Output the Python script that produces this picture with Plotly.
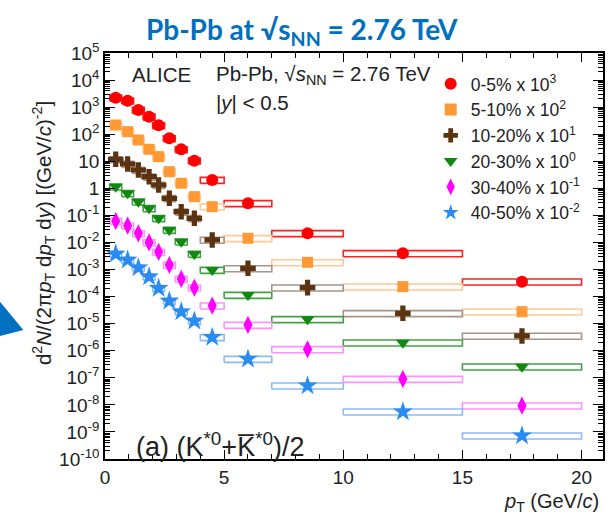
import plotly.graph_objects as go

# K*0 transverse-momentum bins (GeV/c): point positions and box half-widths
pt = [0.45, 0.95, 1.4, 1.85, 2.25, 2.7, 3.2, 3.75, 4.5, 6.0, 8.5, 12.5, 17.5]
pt_halfwidth = [0.25, 0.25, 0.25, 0.25, 0.25, 0.25, 0.25, 0.25, 0.5, 1.0, 1.5, 2.5, 2.5]

# Invariant yields per centrality class (unscaled)
yield_0_5 = [2.23, 1.73, 0.783, 0.443, 0.213, 0.0705, 0.0276, 0.0105,
             2.03e-3, 2.81e-4, 2.19e-5, 3.98e-6, 3.56e-7]
yield_5_10 = [2.19, 1.24, 0.611, 0.277, 0.148, 0.0412, 0.0154, 4.92e-3,
              2.10e-3, 1.43e-4, 1.85e-5, 2.33e-6, 2.77e-7]
yield_10_20 = [1.18, 0.794, 0.476, 0.269, 0.133, 0.0429, 0.0137, 7.83e-3,
               1.24e-3, 1.11e-4, 2.14e-5, 2.42e-6, 3.52e-7]
yield_20_30 = [1.15, 0.656, 0.321, 0.183, 0.0783, 0.0289, 0.0107, 3.76e-3,
               9.64e-4, 1.15e-4, 1.46e-5, 1.99e-6, 2.58e-7]
yield_30_40 = [0.622, 0.417, 0.218, 0.100, 0.0446, 0.0147, 4.48e-3, 2.14e-3,
               4.62e-4, 8.95e-5, 1.13e-5, 9.06e-7, 9.35e-8]
yield_40_50 = [0.376, 0.225, 0.117, 0.0545, 0.0203, 6.90e-3, 2.78e-3, 1.26e-3,
               3.15e-4, 4.97e-5, 5.13e-6, 5.61e-7, 7.29e-8]

# Relative systematic uncertainty (drawn as open boxes)
sys_rel = 0.25

centrality_labels = ["0-5%", "5-10%", "10-20%", "20-30%", "30-40%", "40-50%"]
scale_exponents = [3, 2, 1, 0, -1, -2]
series = [yield_0_5, yield_5_10, yield_10_20, yield_20_30, yield_30_40, yield_40_50]

marker_colors = ["#ff0000", "#ff9933", "#5c3311", "#118811", "#ff00ff", "#2a8cf0"]
box_colors = ["#ff2020", "#ffc896", "#a89488", "#44a044", "#ff90ff", "#8cbcf8"]
marker_symbols = ["circle", "square", "cross", "triangle-down", "diamond-tall", "star"]
marker_sizes = [12, 11, 13, 12, 13, 15]

fig = go.Figure()

# Systematic-uncertainty boxes
for vals, exp, bcol in zip(series, scale_exponents, box_colors):
    scale = 10.0 ** exp
    xs, ys = [], []
    for x, hw, v in zip(pt, pt_halfwidth, vals):
        v = v * scale
        lo, hi = v * (1 - sys_rel), v * (1 + sys_rel)
        xs += [x - hw, x + hw, x + hw, x - hw, x - hw, None]
        ys += [lo, lo, hi, hi, lo, None]
    fig.add_trace(go.Scatter(
        x=xs, y=ys, mode="lines", line=dict(color=bcol, width=1.6),
        showlegend=False, hoverinfo="skip"))

# Data points, scaled for visibility
for i, (vals, exp) in enumerate(zip(series, scale_exponents)):
    scale = 10.0 ** exp
    fig.add_trace(go.Scatter(
        x=pt, y=[v * scale for v in vals], mode="markers",
        name=f"{centrality_labels[i]} x 10<sup>{exp}</sup>",
        legendgroup=f"g{i}",
        marker=dict(symbol=marker_symbols[i], size=marker_sizes[i],
                    color=marker_colors[i], line=dict(width=0))))

# Log-axis decade ticks
decades = list(range(-10, 6))
ytickvals = [10.0 ** k for k in decades]
yticktext = []
for k in decades:
    if k == 0:
        yticktext.append("1")
    elif k == 1:
        yticktext.append("10")
    else:
        yticktext.append(f"10<sup>{k}</sup>")
yminor = [m * 10.0 ** k for k in range(-10, 5) for m in range(2, 10)]

fig.update_xaxes(
    range=[0, 20.9], tickvals=[0, 5, 10, 15, 20], ticks="inside", ticklen=9,
    tickwidth=1.3, tickcolor="black", showline=True, linecolor="black",
    linewidth=1.5, mirror="allticks", showgrid=False, zeroline=False,
    tickfont=dict(size=19),
    minor=dict(tick0=0, dtick=1, ticks="inside", ticklen=5, tickwidth=1.2,
               tickcolor="black", showgrid=False))
fig.update_yaxes(
    type="log", range=[-10, 5], tickvals=ytickvals, ticktext=yticktext,
    ticks="inside", ticklen=10, tickwidth=1.3, tickcolor="black",
    showline=True, linecolor="black", linewidth=1.5, mirror="allticks",
    showgrid=False, zeroline=False, tickfont=dict(size=19),
    minor=dict(tickvals=yminor, ticks="inside", ticklen=5, tickwidth=1.1,
               tickcolor="black", showgrid=False))

sans = "Liberation Sans, Arial, sans-serif"
text_font = dict(family=sans, size=20.5, color="#222222")

annotations = [
    dict(text="Pb-Pb at √s<sub>NN</sub> = 2.76 TeV", x=0.396, y=1.055,
         xanchor="center", yanchor="middle",
         font=dict(family="Lato, Open Sans, sans-serif", size=28, color="#0070c0",
                   weight="bold")),
    dict(text="ALICE", x=0.05, y=0.946, xanchor="left", yanchor="middle", font=text_font),
    dict(text="Pb-Pb, √<i>s</i><sub>NN</sub> = 2.76 TeV", x=0.218, y=0.946,
         xanchor="left", yanchor="middle", font=text_font),
    dict(text="|<i>y</i>| < 0.5", x=0.218, y=0.877, xanchor="left", yanchor="middle",
         font=text_font),
    dict(text="(a) (K<sup>*0</sup>+K̅<sup>*0</sup>)/2", x=0.058, y=0.034,
         xanchor="left", yanchor="middle",
         font=dict(family=sans, size=27, color="#222222")),
    dict(text="<i>p</i><sub>T</sub> (GeV/<i>c</i>)", x=0.996, y=-0.106,
         xanchor="right", yanchor="middle", font=dict(family=sans, size=20, color="#222222")),
    dict(text="d<sup>2</sup><i>N</i>/(2π<i>p</i><sub>T</sub> d<i>p</i><sub>T</sub> d<i>y</i>) [(GeV/<i>c</i>)<sup>-2</sup>]",
         x=-0.122, y=0.557, xanchor="center", yanchor="middle", textangle=-90,
         font=dict(family=sans, size=20.5, color="#222222")),
]
for a in annotations:
    a.update(xref="paper", yref="paper", showarrow=False)


def px(xp, yp):
    return (xp - 105) / 500.0, (459 - yp) / 406.0


# Blue pointer arrow at the left edge
pts = [px(-20, 278), px(23, 330), px(-20, 341)]
path = "M " + " L ".join(f"{a:.4f},{b:.4f}" for a, b in pts) + " Z"

fig.update_layout(
    width=615, height=520,
    margin=dict(l=105, r=10, t=53, b=61),
    plot_bgcolor="white", paper_bgcolor="white",
    font=dict(family=sans, size=18, color="#222222"),
    annotations=annotations,
    shapes=[dict(type="path", path=path, xref="paper", yref="paper",
                 fillcolor="#0070c0", line=dict(width=0))],
    legend=dict(x=0.654, y=0.968, xanchor="left", yanchor="top",
                bgcolor="rgba(0,0,0,0)", font=dict(size=17.5, color="#222222"),
                itemsizing="constant", tracegroupgap=0),
)

fig.write_html("out.html")
